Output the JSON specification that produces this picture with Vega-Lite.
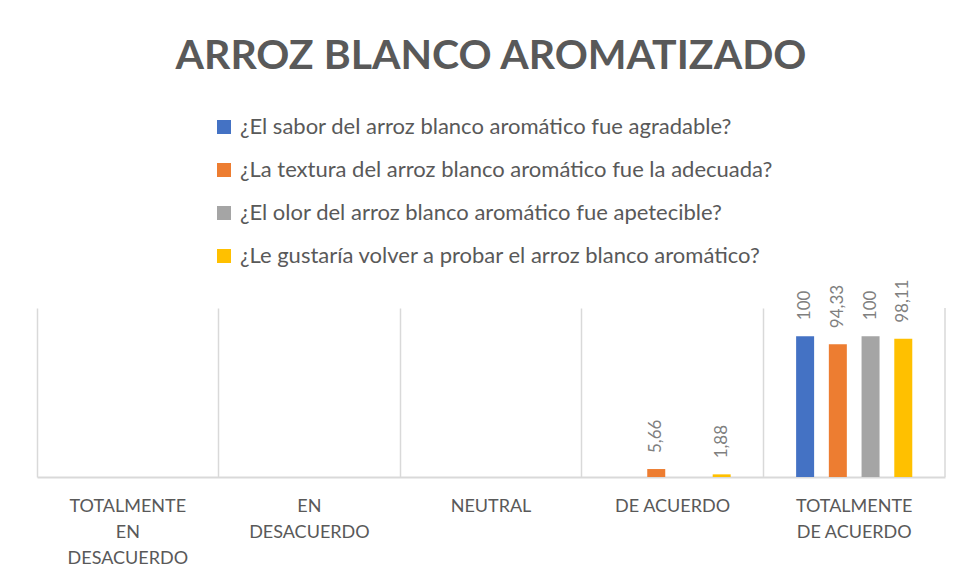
{
  "$schema": "https://vega.github.io/schema/vega-lite/v6.json",
  "width": 908,
  "height": 169,
  "autosize": "none",
  "padding": {"left": 37, "top": 308, "right": 16, "bottom": 103},
  "background": "white",
  "title": {
    "text": "ARROZ BLANCO AROMATIZADO",
    "anchor": "middle",
    "frame": "group",
    "fontSize": 41,
    "fontWeight": "bold",
    "font": "Lato",
    "color": "#595959",
    "offset": 38
  },
  "data": {
    "values": [
      {"cat": "TOTALMENTE EN DESACUERDO", "q": "¿El sabor del arroz blanco aromático fue agradable?", "value": 0},
      {"cat": "TOTALMENTE EN DESACUERDO", "q": "¿La textura del arroz blanco aromático fue la adecuada?", "value": 0},
      {"cat": "TOTALMENTE EN DESACUERDO", "q": "¿El olor del arroz blanco aromático fue apetecible?", "value": 0},
      {"cat": "TOTALMENTE EN DESACUERDO", "q": "¿Le gustaría volver a probar el arroz blanco aromático?", "value": 0},
      {"cat": "EN DESACUERDO", "q": "¿El sabor del arroz blanco aromático fue agradable?", "value": 0},
      {"cat": "EN DESACUERDO", "q": "¿La textura del arroz blanco aromático fue la adecuada?", "value": 0},
      {"cat": "EN DESACUERDO", "q": "¿El olor del arroz blanco aromático fue apetecible?", "value": 0},
      {"cat": "EN DESACUERDO", "q": "¿Le gustaría volver a probar el arroz blanco aromático?", "value": 0},
      {"cat": "NEUTRAL", "q": "¿El sabor del arroz blanco aromático fue agradable?", "value": 0},
      {"cat": "NEUTRAL", "q": "¿La textura del arroz blanco aromático fue la adecuada?", "value": 0},
      {"cat": "NEUTRAL", "q": "¿El olor del arroz blanco aromático fue apetecible?", "value": 0},
      {"cat": "NEUTRAL", "q": "¿Le gustaría volver a probar el arroz blanco aromático?", "value": 0},
      {"cat": "DE ACUERDO", "q": "¿El sabor del arroz blanco aromático fue agradable?", "value": 0},
      {"cat": "DE ACUERDO", "q": "¿La textura del arroz blanco aromático fue la adecuada?", "value": 5.66},
      {"cat": "DE ACUERDO", "q": "¿El olor del arroz blanco aromático fue apetecible?", "value": 0},
      {"cat": "DE ACUERDO", "q": "¿Le gustaría volver a probar el arroz blanco aromático?", "value": 1.88},
      {"cat": "TOTALMENTE DE ACUERDO", "q": "¿El sabor del arroz blanco aromático fue agradable?", "value": 100},
      {"cat": "TOTALMENTE DE ACUERDO", "q": "¿La textura del arroz blanco aromático fue la adecuada?", "value": 94.33},
      {"cat": "TOTALMENTE DE ACUERDO", "q": "¿El olor del arroz blanco aromático fue apetecible?", "value": 100},
      {"cat": "TOTALMENTE DE ACUERDO", "q": "¿Le gustaría volver a probar el arroz blanco aromático?", "value": 98.11}
    ]
  },
  "encoding": {
    "x": {
      "field": "cat",
      "type": "nominal",
      "sort": null,
      "scale": {"paddingInner": 0, "paddingOuter": 0},
      "axis": {
        "title": null,
        "labelAngle": 0,
        "labelFont": "Lato",
        "labelFontSize": 18,
        "labelColor": "#595959",
        "labelPadding": 20,
        "labelBaseline": "top",
        "labelLineHeight": 26,
        "labelLimit": 300,
        "ticks": false,
        "domainColor": "#d9d9d9",
        "domainWidth": 2,
        "grid": true,
        "bandPosition": 0,
        "gridColor": "#d9d9d9",
        "gridWidth": 1.5,
        "labelExpr": "datum.value == 'TOTALMENTE EN DESACUERDO' ? ['TOTALMENTE', 'EN', 'DESACUERDO'] : datum.value == 'EN DESACUERDO' ? ['EN', 'DESACUERDO'] : datum.value == 'TOTALMENTE DE ACUERDO' ? ['TOTALMENTE', 'DE ACUERDO'] : datum.value"
      }
    },
    "xOffset": {
      "field": "q",
      "type": "nominal",
      "sort": null,
      "scale": {"paddingInner": 0.45, "paddingOuter": 1.15}
    },
    "y": {
      "field": "value",
      "type": "quantitative",
      "scale": {"domain": [0, 120], "nice": false},
      "axis": null
    }
  },
  "layer": [
    {
      "mark": {"type": "bar"},
      "encoding": {
        "color": {
          "field": "q",
          "type": "nominal",
          "sort": null,
          "scale": {
            "domain": [
              "¿El sabor del arroz blanco aromático fue agradable?",
              "¿La textura del arroz blanco aromático fue la adecuada?",
              "¿El olor del arroz blanco aromático fue apetecible?",
              "¿Le gustaría volver a probar el arroz blanco aromático?"
            ],
            "range": ["#4472C4", "#ED7D31", "#A5A5A5", "#FFC000"]
          },
          "legend": {
            "title": null,
            "orient": "none",
            "legendX": 176,
            "legendY": -192,
            "direction": "vertical",
            "symbolType": "square",
            "symbolSize": 196,
            "symbolStrokeWidth": 0,
            "labelFont": "Lato",
            "labelFontSize": 22,
            "labelColor": "#595959",
            "labelLimit": 800,
            "labelOffset": 5,
            "rowPadding": 21
          }
        }
      }
    },
    {
      "transform": [{"filter": "datum.value > 0"}],
      "mark": {
        "type": "text",
        "angle": 270,
        "align": "left",
        "baseline": "middle",
        "dx": 16,
        "font": "Lato",
        "fontSize": 17,
        "color": "#7f7f7f"
      },
      "encoding": {
        "text": {"field": "value", "type": "quantitative", "format": ".2~f"}
      }
    },
    {
      "transform": [{"filter": "datum.cat == 'TOTALMENTE DE ACUERDO' && datum.q == '¿El sabor del arroz blanco aromático fue agradable?'"}],
      "mark": {"type": "rule", "color": "#d9d9d9", "strokeWidth": 1.5},
      "encoding": {
        "x": {"field": "cat", "type": "nominal", "sort": null, "bandPosition": 1},
        "xOffset": null,
        "y": {"value": 0},
        "y2": {"value": 169}
      }
    }
  ],
  "config": {
    "view": {"stroke": null},
    "locale": {
      "number": {"decimal": ",", "thousands": ".", "grouping": [3], "currency": ["", " €"]}
    }
  }
}
